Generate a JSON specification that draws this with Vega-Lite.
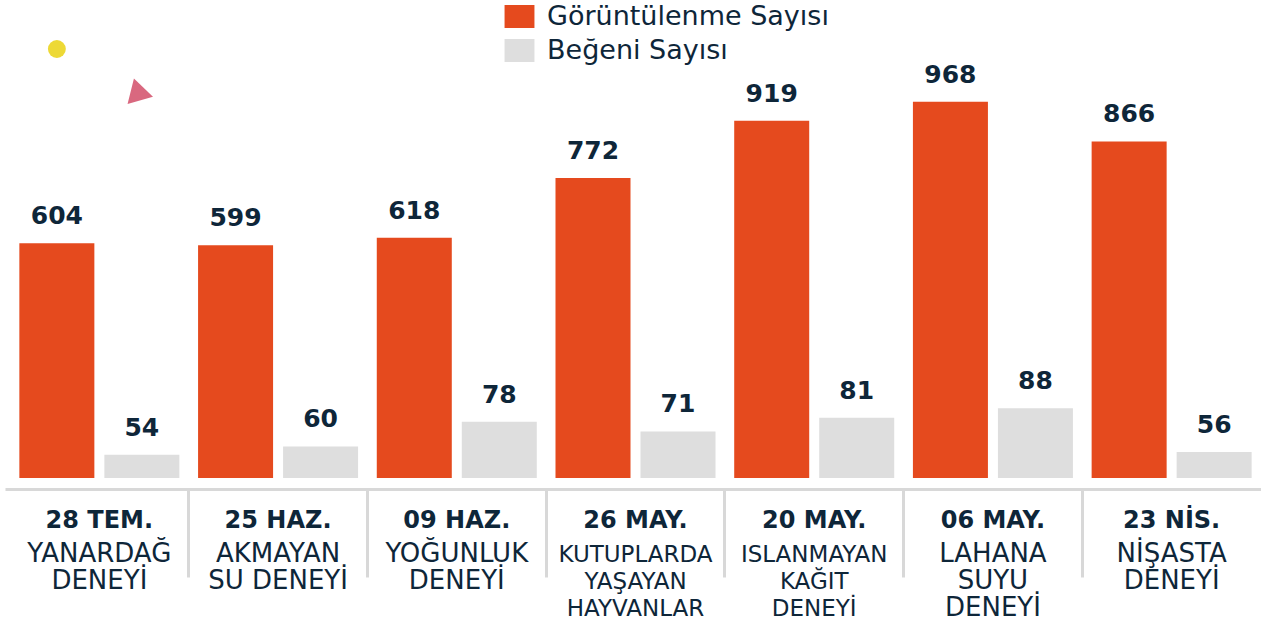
{
  "$schema": "https://vega.github.io/schema/vega-lite/v6.json",
  "width": 1261,
  "height": 478,
  "autosize": {"type": "none"},
  "padding": {"left": 5, "top": 0, "right": 0, "bottom": 141},
  "config": {"view": {"stroke": null}, "font": "DejaVu Sans"},
  "datasets": {
    "bars": [
      {"key": "28 TEM.|YANARDAĞ|DENEYİ", "series": "Görüntülenme Sayısı", "value": 604},
      {"key": "28 TEM.|YANARDAĞ|DENEYİ", "series": "Beğeni Sayısı", "value": 54},
      {"key": "25 HAZ.|AKMAYAN|SU DENEYİ", "series": "Görüntülenme Sayısı", "value": 599},
      {"key": "25 HAZ.|AKMAYAN|SU DENEYİ", "series": "Beğeni Sayısı", "value": 60},
      {"key": "09 HAZ.|YOĞUNLUK|DENEYİ", "series": "Görüntülenme Sayısı", "value": 618},
      {"key": "09 HAZ.|YOĞUNLUK|DENEYİ", "series": "Beğeni Sayısı", "value": 78},
      {"key": "26 MAY.|KUTUPLARDA|YAŞAYAN|HAYVANLAR", "series": "Görüntülenme Sayısı", "value": 772},
      {"key": "26 MAY.|KUTUPLARDA|YAŞAYAN|HAYVANLAR", "series": "Beğeni Sayısı", "value": 71},
      {"key": "20 MAY.|ISLANMAYAN|KAĞIT|DENEYİ", "series": "Görüntülenme Sayısı", "value": 919},
      {"key": "20 MAY.|ISLANMAYAN|KAĞIT|DENEYİ", "series": "Beğeni Sayısı", "value": 81},
      {"key": "06 MAY.|LAHANA|SUYU|DENEYİ", "series": "Görüntülenme Sayısı", "value": 968},
      {"key": "06 MAY.|LAHANA|SUYU|DENEYİ", "series": "Beğeni Sayısı", "value": 88},
      {"key": "23 NİS.|NİŞASTA|DENEYİ", "series": "Görüntülenme Sayısı", "value": 866},
      {"key": "23 NİS.|NİŞASTA|DENEYİ", "series": "Beğeni Sayısı", "value": 56}
    ],
    "deco": [
      {"key": "28 TEM.|YANARDAĞ|DENEYİ", "series": "Görüntülenme Sayısı", "value": 1104, "shape": "circle"},
      {"key": "28 TEM.|YANARDAĞ|DENEYİ", "series": "Beğeni Sayısı", "value": 988, "shape": "triangle"}
    ]
  },
  "resolve": {"scale": {"y": "independent"}, "axis": {"x": "independent"}},
  "layer": [
    {
      "encoding": {
        "x": {
          "field": "key", "type": "nominal", "sort": null,
          "scale": {"paddingInner": 0, "paddingOuter": 0.028},
          "axis": {
            "orient": "bottom", "title": null, "offset": 11,
            "domainColor": "#D8D8D8", "domainWidth": 3,
            "bandPosition": 0, "tickSize": 88, "tickWidth": 3,
            "tickColor": {"condition": {"test": "datum.value === '28 TEM.|YANARDAĞ|DENEYİ'", "value": "transparent"}, "value": "#D8D8D8"},
            "labelExpr": "split(datum.value, '|')[0]",
            "labelAngle": 0, "labelFont": "DejaVu Sans", "labelFontWeight": "bold", "labelFontSize": 24,
            "labelColor": "#0E2639", "labelBaseline": "alphabetic", "labelAlign": "center", "labelPadding": -50,
            "labelOverlap": false, "labelLimit": 400, "labelBound": false, "labelFlush": false
          }
        },
        "xOffset": {"field": "series", "type": "nominal", "sort": null,
          "scale": {"domain": ["Görüntülenme Sayısı", "Beğeni Sayısı"], "paddingInner": 0.1176, "paddingOuter": 0.11}},
        "y": {"field": "value", "type": "quantitative", "scale": {"domain": [0, 1230], "nice": false, "zero": true}, "axis": null}
      },
      "layer": [
        {
          "data": {"name": "bars"},
          "transform": [{"filter": "datum.series === 'Görüntülenme Sayısı'"}],
          "mark": {"type": "bar"},
          "encoding": {
            "color": {
              "field": "series", "type": "nominal",
              "scale": {"domain": ["Görüntülenme Sayısı", "Beğeni Sayısı"], "range": ["#E54A1E", "#DEDEDE"]},
              "legend": {
                "orient": "none", "legendX": 501, "legendY": 3, "title": null, "padding": 0,
                "direction": "vertical",
                "symbolType": "M-1.3,-1H1.3V1H-1.3Z", "symbolSize": 529, "symbolStrokeWidth": 0, "symbolOpacity": 1,
                "labelFont": "DejaVu Sans", "labelFontSize": 27, "labelColor": "#0E2639",
                "labelOffset": 14, "rowPadding": 6, "labelLimit": 400
              }
            }
          }
        },
        {
          "data": {"name": "bars"},
          "transform": [{"filter": "datum.series === 'Görüntülenme Sayısı'"}],
          "mark": {"type": "text", "font": "DejaVu Sans", "fontWeight": "bold", "fontSize": 25, "color": "#0E2639", "baseline": "alphabetic", "align": "center", "dy": -19},
          "encoding": {"text": {"field": "value", "type": "quantitative"}}
        },
        {
          "data": {"name": "deco"},
          "transform": [{"filter": "datum.shape === 'circle'"}],
          "mark": {"type": "point", "shape": "circle", "filled": true, "color": "#EDD936", "opacity": 1, "size": 320, "strokeWidth": 0}
        },
        {
          "data": {"name": "deco"},
          "transform": [{"filter": "datum.shape === 'triangle'"}],
          "mark": {"type": "point", "shape": "triangle-right", "filled": true, "color": "#D9687F", "opacity": 1, "size": 700, "angle": 14, "strokeWidth": 0}
        }
      ]
    },
    {
      "encoding": {
        "x": {
          "field": "key", "type": "nominal", "sort": null,
          "scale": {"paddingInner": 0, "paddingOuter": 0.028},
          "axis": {
            "orient": "bottom", "title": null, "offset": 11,
            "domain": false, "ticks": false,
            "labelExpr": "slice(split(datum.value, '|'), 1)",
            "labelAngle": 0, "labelFont": "DejaVu Sans", "labelFontWeight": "normal",
            "labelFontSize": {"condition": {"test": "indexof(datum.value, 'KUTUPLARDA') >= 0 || indexof(datum.value, 'ISLANMAYAN') >= 0", "value": 23}, "value": 26},
            "labelColor": "#0E2639", "labelBaseline": "alphabetic", "labelPadding": 72, "labelLineHeight": 27,
            "labelOverlap": false, "labelLimit": 400, "labelBound": false, "labelFlush": false
          }
        },
        "xOffset": {"field": "series", "type": "nominal", "sort": null,
          "scale": {"domain": ["Görüntülenme Sayısı", "Beğeni Sayısı"], "paddingInner": 0.1176, "paddingOuter": 0.11}},
        "y": {"field": "value", "type": "quantitative", "scale": {"domain": [37, 386], "nice": false, "zero": false}, "axis": null}
      },
      "layer": [
        {
          "data": {"name": "bars"},
          "transform": [{"filter": "datum.series === 'Beğeni Sayısı'"}],
          "mark": {"type": "bar"},
          "encoding": {
            "y2": {"datum": 37},
            "color": {
              "field": "series", "type": "nominal",
              "scale": {"domain": ["Görüntülenme Sayısı", "Beğeni Sayısı"], "range": ["#E54A1E", "#DEDEDE"]}
            }
          }
        },
        {
          "data": {"name": "bars"},
          "transform": [{"filter": "datum.series === 'Beğeni Sayısı'"}],
          "mark": {"type": "text", "font": "DejaVu Sans", "fontWeight": "bold", "fontSize": 25, "color": "#0E2639", "baseline": "alphabetic", "align": "center", "dy": -19},
          "encoding": {"text": {"field": "value", "type": "quantitative"}}
        }
      ]
    }
  ]
}
